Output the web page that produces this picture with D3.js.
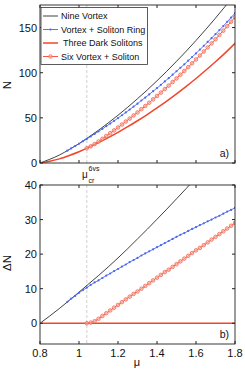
<!DOCTYPE html>
<html>
<head>
<meta charset="utf-8">
<script src="https://cdn.jsdelivr.net/npm/d3@7"></script>
<style>
  body { margin: 0; background: #fff; }
  svg { display: block; font-family: "Liberation Sans", Arial, sans-serif; }
</style>
</head>
<body>
<div id="chart"></div>
<script>
// ---- data ----
const muCr = 1.04;

// coarse grid for the plain lines
const muCoarse = [0.80, 0.85, 0.90, 0.95, 1.00, 1.05, 1.10, 1.15, 1.20, 1.25, 1.30, 1.35, 1.40, 1.45, 1.50, 1.55, 1.60, 1.65, 1.70, 1.75, 1.80];
const nineVortexN = [0, 4.1, 8.9, 14.9, 21.5, 28.7, 36.3, 44.4, 52.9, 61.8, 71.2, 80.9, 91.1, 101.6, 112.6, 123.9, 135.7, 147.9, 160.5, 173.6, 187.4];
const nineVortexDN = [0, 2.1, 4.3, 6.6, 9.0, 11.4, 13.8, 16.3, 18.9, 21.6, 24.4, 27.2, 30.1, 33.0, 36.0, 39.0, 42.1, 45.2, 48.4, 51.6, 54.9];
const darkSolitonsN = [0, 2.0, 4.6, 8.3, 12.5, 17.3, 22.5, 28.1, 34.0, 40.2, 46.8, 53.7, 61.0, 68.6, 76.6, 84.9, 93.6, 102.7, 112.1, 122.0, 132.5];
const darkSolitonsDN = [0, 0, 0, 0, 0, 0, 0, 0, 0, 0, 0, 0, 0, 0, 0, 0, 0, 0, 0, 0, 0];

// vortex + soliton ring (blue dots)
const muRing = [0.94, 0.96, 0.98, 1.00, 1.02, 1.04, 1.06, 1.08, 1.10, 1.12, 1.14, 1.16, 1.18, 1.20, 1.22, 1.24, 1.26, 1.28, 1.30, 1.32, 1.34, 1.36, 1.38, 1.40, 1.42, 1.44, 1.46, 1.48, 1.50, 1.52, 1.54, 1.56, 1.58, 1.60, 1.62, 1.64, 1.66, 1.68, 1.70, 1.72, 1.74, 1.76, 1.78, 1.80];
const ringN = [13.7, 16.2, 18.7, 21.3, 24.0, 26.6, 29.4, 32.2, 34.9, 37.8, 40.8, 43.7, 46.7, 49.7, 52.9, 56.0, 59.2, 62.5, 65.7, 69.2, 72.5, 76.0, 79.5, 83.0, 86.6, 90.3, 94.0, 97.8, 101.6, 105.5, 109.3, 113.3, 117.4, 121.4, 125.6, 129.8, 134.1, 138.3, 142.7, 147.2, 151.7, 156.4, 161.1, 165.9];
const ringDN = [6.2, 7.1, 7.9, 8.8, 9.6, 10.3, 11.1, 11.8, 12.4, 13.1, 13.8, 14.4, 15.1, 15.7, 16.4, 17.0, 17.7, 18.3, 18.9, 19.6, 20.2, 20.8, 21.4, 22.0, 22.6, 23.2, 23.8, 24.4, 25.0, 25.6, 26.1, 26.7, 27.3, 27.8, 28.4, 28.9, 29.5, 30.0, 30.6, 31.1, 31.7, 32.3, 32.8, 33.4];

// six vortex + soliton (red circles)
const muSix = [1.04, 1.06, 1.08, 1.10, 1.12, 1.14, 1.16, 1.18, 1.20, 1.22, 1.24, 1.26, 1.28, 1.30, 1.32, 1.34, 1.36, 1.38, 1.40, 1.42, 1.44, 1.46, 1.48, 1.50, 1.52, 1.54, 1.56, 1.58, 1.60, 1.62, 1.64, 1.66, 1.68, 1.70, 1.72, 1.74, 1.76, 1.78, 1.80];
const sixN = [16.3, 18.5, 21.0, 23.8, 26.8, 29.9, 33.0, 36.1, 39.3, 42.6, 45.9, 49.2, 52.7, 56.0, 59.6, 63.1, 66.8, 70.5, 74.2, 78.0, 81.9, 85.7, 89.7, 93.7, 97.8, 101.9, 106.1, 110.4, 114.7, 119.0, 123.5, 128.0, 132.5, 137.1, 141.9, 146.6, 151.5, 156.5, 161.5];
const sixDN = [0.0, 0.2, 0.6, 1.3, 2.1, 2.9, 3.7, 4.5, 5.3, 6.1, 6.9, 7.7, 8.5, 9.2, 10.0, 10.8, 11.6, 12.4, 13.2, 14.0, 14.8, 15.5, 16.3, 17.1, 17.9, 18.7, 19.5, 20.3, 21.1, 21.8, 22.6, 23.4, 24.2, 25.0, 25.8, 26.6, 27.4, 28.2, 29.0];

const xTicks = [0.8, 1.0, 1.2, 1.4, 1.6, 1.8];
const xTickLabels = ["0.8", "1", "1.2", "1.4", "1.6", "1.8"];
const topYTicks = [0, 50, 100, 150];
const botYTicks = [0, 10, 20, 30, 40];
const legendLabels = ["Nine Vortex", "Vortex + Soliton Ring", "Three Dark Solitons", "Six Vortex + Soliton"];

// ---- drawing ----
const width = 245, height = 371;
const blue = "#4a66f0", red = "#f2452a", black = "#111";
const ringStroke = "#f06a55", ringFill = "#f8b4a8";

const svg = d3.select("#chart").append("svg").attr("width", width).attr("height", height);

const x = d3.scaleLinear().domain([0.8, 1.8]).range([40, 235]);
const yTop = d3.scaleLinear().domain([0, 175]).range([163, 5]);
const yBot = d3.scaleLinear().domain([-6, 40]).range([344, 185]);

const zip = (xs, ys) => xs.map((m, i) => ({ mu: m, v: ys[i] }));

function panel(y, ticks, series, showXLabels, tag) {
    const g = svg.append("g");
    const [y0, y1] = y.range();
    const clipId = "clip" + Math.round(y0);
    svg.append("clipPath").attr("id", clipId).append("rect")
        .attr("x", 40).attr("y", y1).attr("width", 195).attr("height", y0 - y1);

    // dashed critical line
    g.append("line").attr("x1", x(muCr)).attr("x2", x(muCr)).attr("y1", y1).attr("y2", y0)
        .attr("stroke", "#c4c4c4").attr("stroke-width", 0.8).attr("stroke-dasharray", "3,2");

    const plot = g.append("g").attr("clip-path", `url(#${clipId})`);
    series.forEach(s => {
        const line = d3.line().x(d => x(d.mu)).y(d => y(d.v)).curve(d3.curveMonotoneX);
        plot.append("path").datum(s.data).attr("d", line).attr("fill", "none")
            .attr("stroke", s.color).attr("stroke-width", s.width);
        if (s.marker === "dot") {
            plot.selectAll(null).data(s.data).join("circle")
                .attr("cx", d => x(d.mu)).attr("cy", d => y(d.v)).attr("r", 1.1).attr("fill", s.color);
        } else if (s.marker === "circle") {
            plot.selectAll(null).data(s.data).join("circle")
                .attr("cx", d => x(d.mu)).attr("cy", d => y(d.v)).attr("r", 1.8)
                .attr("fill", ringFill).attr("fill-opacity", 0.6).attr("stroke", ringStroke).attr("stroke-width", 0.8);
        }
    });

    // frame and inward ticks on all sides
    g.append("rect").attr("x", 40).attr("y", y1).attr("width", 195).attr("height", y0 - y1)
        .attr("fill", "none").attr("stroke", "#222").attr("stroke-width", 0.9);
    xTicks.forEach((t, i) => {
        g.append("line").attr("x1", x(t)).attr("x2", x(t)).attr("y1", y0).attr("y2", y0 - 3).attr("stroke", "#222");
        g.append("line").attr("x1", x(t)).attr("x2", x(t)).attr("y1", y1).attr("y2", y1 + 3).attr("stroke", "#222");
        if (showXLabels) {
            g.append("text").attr("x", x(t)).attr("y", y0 + 13).attr("text-anchor", "middle")
                .attr("font-size", 11).attr("fill", "#111").text(xTickLabels[i]);
        }
    });
    ticks.forEach(t => {
        g.append("line").attr("x1", 40).attr("x2", 43).attr("y1", y(t)).attr("y2", y(t)).attr("stroke", "#222");
        g.append("line").attr("x1", 235).attr("x2", 232).attr("y1", y(t)).attr("y2", y(t)).attr("stroke", "#222");
        g.append("text").attr("x", 37).attr("y", y(t) + 4).attr("text-anchor", "end")
            .attr("font-size", 11).attr("fill", "#111").text(t);
    });
    g.append("text").attr("x", 229).attr("y", y0 - 6).attr("text-anchor", "end")
        .attr("font-size", 10.5).attr("fill", "#111").text(tag);
    return g;
}

const topSeries = [
    { data: zip(muCoarse, nineVortexN), color: black, width: 0.8 },
    { data: zip(muRing, ringN), color: blue, width: 0.9, marker: "dot" },
    { data: zip(muCoarse, darkSolitonsN), color: red, width: 1.5 },
    { data: zip(muSix, sixN), color: red, width: 0.9, marker: "circle" }
];
const botSeries = [
    { data: zip(muCoarse, nineVortexDN), color: black, width: 0.8 },
    { data: zip(muRing, ringDN), color: blue, width: 0.9, marker: "dot" },
    { data: zip(muCoarse, darkSolitonsDN), color: red, width: 1.5 },
    { data: zip(muSix, sixDN), color: red, width: 0.9, marker: "circle" }
];

panel(yTop, topYTicks, topSeries, false, "a)");
panel(yBot, botYTicks, botSeries, true, "b)");

// axis titles
svg.append("text").attr("transform", "translate(11,85) rotate(-90)").attr("text-anchor", "middle")
    .attr("font-size", 11.5).attr("fill", "#111").text("N");
svg.append("text").attr("transform", "translate(11,263) rotate(-90)").attr("text-anchor", "middle")
    .attr("font-size", 11.5).attr("fill", "#111").text("ΔN");
svg.append("text").attr("x", 137).attr("y", 366).attr("text-anchor", "middle")
    .attr("font-size", 11).attr("fill", "#111").text("μ");

// mu_cr label
const crLabel = svg.append("text").attr("x", 82).attr("y", 178).attr("font-size", 10).attr("fill", "#111");
crLabel.append("tspan").text("μ");
crLabel.append("tspan").attr("x", 88.5).attr("y", 182.5).attr("font-size", 7).text("cr");
crLabel.append("tspan").attr("x", 88.5).attr("y", 170.5).attr("font-size", 7).text("6vs");

// legend
const legend = svg.append("g");
legend.append("rect").attr("x", 41).attr("y", 7.5).attr("width", 106.5).attr("height", 57)
    .attr("fill", "#fff").attr("stroke", "#333").attr("stroke-width", 0.8);
const legendStyles = [
    { color: black, width: 0.8 },
    { color: blue, width: 0.9, marker: "dot" },
    { color: red, width: 1.5 },
    { color: red, width: 0.9, marker: "circle" }
];
legendLabels.forEach((lab, i) => {
    const ly = 16 + i * 13.5;
    const st = legendStyles[i];
    legend.append("line").attr("x1", 43).attr("x2", 58).attr("y1", ly).attr("y2", ly)
        .attr("stroke", st.color).attr("stroke-width", st.width);
    if (st.marker === "dot") {
        legend.append("circle").attr("cx", 50.5).attr("cy", ly).attr("r", 1.1).attr("fill", st.color);
    } else if (st.marker === "circle") {
        legend.append("circle").attr("cx", 50.5).attr("cy", ly).attr("r", 1.8)
            .attr("fill", ringFill).attr("fill-opacity", 0.6).attr("stroke", ringStroke).attr("stroke-width", 0.8);
    }
    legend.append("text").attr("x", i === 2 ? 63 : 61).attr("y", ly + 3)
        .attr("font-size", 9).attr("fill", "#111").text(lab);
});
</script>
</body>
</html>
